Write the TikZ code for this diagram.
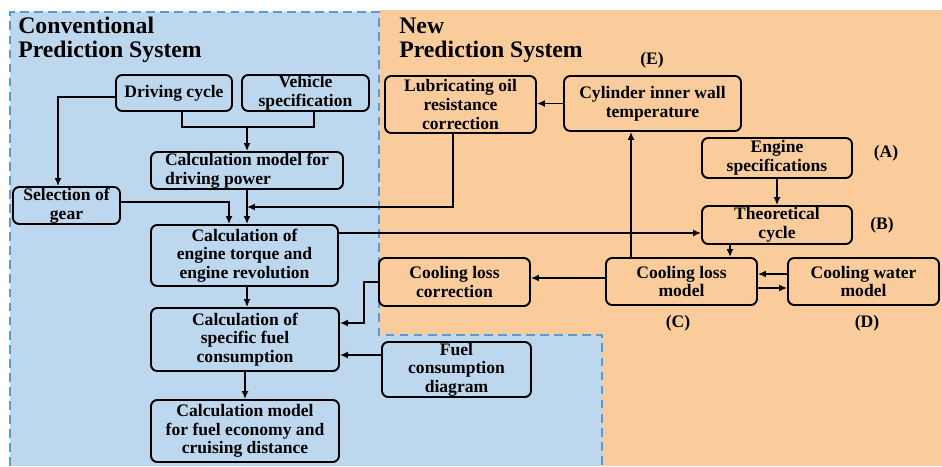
\documentclass[tikz,border=0pt]{standalone}
\usepackage{amssymb,amsmath}
\usepackage{xcolor}
\usepackage{fontspec}
\setmainfont{Liberation Serif}
\usetikzlibrary{arrows.meta}

\definecolor{bluebg}{RGB}{189,215,238}
\definecolor{orangebg}{RGB}{250,204,156}
\definecolor{dashblue}{RGB}{91,155,213}

\begin{document}
\begin{tikzpicture}[x=0.02cm, y=-0.02cm,
    blk/.style={draw, line width=1.1pt, rounded corners=3.5pt, align=center, inner sep=0pt,
        font=\bfseries\fontsize{10}{10.6}\selectfont},
    lbl/.style={inner sep=0pt, font=\bfseries\fontsize{10}{10.6}\selectfont},
    conn/.style={line width=1pt, -{Latex[length=4.5pt,width=4pt]}},
    title/.style={inner sep=0pt, anchor=west, align=left, font=\bfseries\fontsize{13.5}{13.8}\selectfont}]
    \useasboundingbox (0,0) rectangle (942,466);

    % background regions
    \fill[orangebg] (379,10) rectangle (942,466);
    \fill[bluebg] (10,12) -- (379,12) -- (379,335) -- (602,335) -- (602,466) -- (10,466) -- cycle;
    \draw[dashblue, line width=1pt, dash pattern=on 5pt off 3pt]
        (10,466) -- (10,12) -- (379,12) -- (379,335) -- (602,335) -- (602,466);

    \node[title] (convtitle) at (18,40) {Conventional\\Prediction System};
    \node[title] (newtitle) at (399,40) {New\\Prediction System};

    % conventional system
    \node[blk, minimum width=2.32cm, minimum height=0.72cm] (drivecycle) at (174,93) {Driving cycle};
    \node[blk, minimum width=2.54cm, minimum height=0.72cm] (vehspec) at (305.5,93) {Vehicle\\specification};
    \node[blk, minimum width=3.84cm, minimum height=0.74cm, align=left] (drivepower) at (247,170.5) {Calculation model for\\driving power};
    \node[blk, minimum width=2.14cm, minimum height=0.74cm] (gear) at (66.5,205.5) {Selection of\\gear};
    \node[blk, minimum width=3.74cm, minimum height=1.22cm] (torque) at (244.5,255.5) {Calculation of\\engine torque and\\engine revolution};
    \node[blk, minimum width=3.76cm, minimum height=1.26cm] (sfc) at (245,339.5) {Calculation of\\specific fuel\\consumption};
    \node[blk, minimum width=3.76cm, minimum height=1.24cm] (economy) at (245,431) {Calculation model\\for fuel economy and\\cruising distance};
    \node[blk, minimum width=2.98cm, minimum height=1.1cm] (fueldiag) at (456.5,369.5) {Fuel\\consumption\\diagram};

    % new system
    \node[blk, minimum width=3.02cm, minimum height=1.14cm] (lubeoil) at (460.5,104.5) {Lubricating oil\\resistance\\correction};
    \node[blk, minimum width=3.54cm, minimum height=1.1cm] (wall) at (652.5,103.5) {Cylinder inner wall\\temperature};
    \node[blk, minimum width=3cm, minimum height=0.8cm] (enginespec) at (777,158) {Engine\\specifications};
    \node[blk, minimum width=3cm, minimum height=0.76cm] (theory) at (777,225) {Theoretical\\cycle};
    \node[blk, minimum width=3.02cm, minimum height=0.94cm] (lossmodel) at (681.5,281.5) {Cooling loss\\model};
    \node[blk, minimum width=3.02cm, minimum height=0.94cm] (water) at (863.5,281.5) {Cooling water\\model};
    \node[blk, minimum width=3.02cm, minimum height=0.96cm] (losscorr) at (454.5,282) {Cooling loss\\correction};

    \node[lbl] (labE) at (652,60) {(E)};
    \node[lbl] (labA) at (886,153) {(A)};
    \node[lbl] (labB) at (882,225) {(B)};
    \node[lbl] (labC) at (678,323) {(C)};
    \node[lbl] (labD) at (867,323) {(D)};

    % connectors
    \coordinate (joinpw) at (247,127);
    \coordinate (joinlube) at (247,207);
    \draw[conn] ([yshift=-0.08cm]drivecycle.west) -| ([xshift=-0.17cm]gear.north);
    \draw[line width=1pt] ([xshift=0.16cm]drivecycle.south) |- (joinpw) -| ([xshift=0.17cm]vehspec.south);
    \draw[conn] (joinpw) -- (drivepower.north);
    \draw[conn] (drivepower.south) -- (drivepower.south |- torque.north);
    \draw[conn] ([yshift=0.07cm]gear.east) -| ([xshift=-0.31cm]torque.north);
    \draw[conn] ([xshift=-0.15cm]lubeoil.south) |- (joinlube);
    \draw[conn] ([yshift=-0.16cm]theory.west -| torque.east) -- ([yshift=-0.16cm]theory.west);
    \draw[conn] (torque.south -| drivepower.south) -- (sfc.north -| drivepower.south);
    \draw[conn] (sfc.south) -- (economy.north);
    \draw[conn] (enginespec.south) -- (theory.north);
    \draw[conn] ([xshift=-0.94cm]theory.south) -- ([xshift=-0.94cm]theory.south |- lossmodel.north);
    \draw[conn] ([xshift=-1.01cm]lossmodel.north) -- ([xshift=-1.01cm]lossmodel.north |- wall.south);
    \draw[conn] (wall.west) -- (wall.west -| lubeoil.east);
    \draw[conn] ([yshift=0.15cm]water.west) -- ([yshift=0.15cm]water.west -| lossmodel.east);
    \draw[conn] ([yshift=-0.13cm]lossmodel.east) -- ([yshift=-0.13cm]lossmodel.east -| water.west);
    \draw[conn] ([yshift=0.07cm]lossmodel.west) -- ([yshift=0.07cm]lossmodel.west -| losscorr.east);
    \draw[conn] (losscorr.west) -- ++(-14,0) |- ([yshift=0.33cm]sfc.east);
    \draw[conn] ([yshift=0.29cm]fueldiag.west) -- ([yshift=0.29cm]fueldiag.west -| sfc.east);
\end{tikzpicture}
\end{document}
